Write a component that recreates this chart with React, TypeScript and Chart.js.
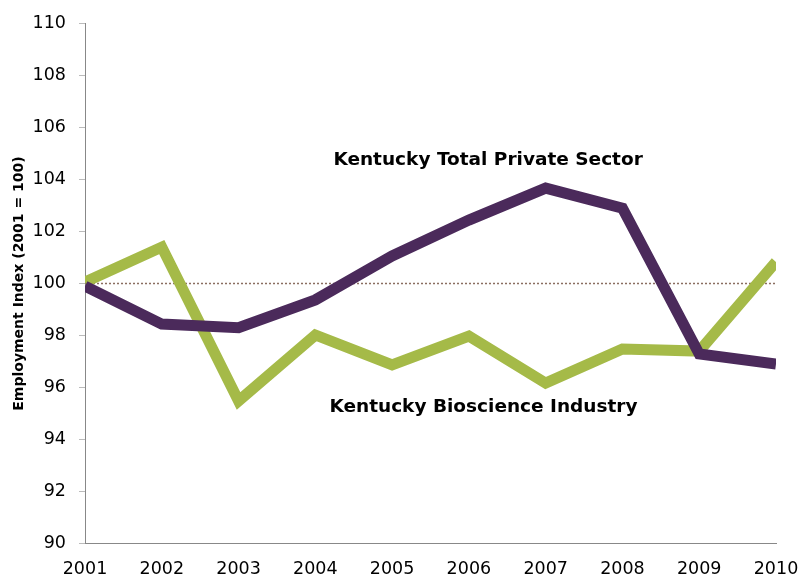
import React, { useEffect, useRef } from "react";
import { Chart, registerables } from "chart.js";

Chart.register(...registerables);

const years = ["2001", "2002", "2003", "2004", "2005", "2006", "2007", "2008", "2009", "2010"];
const totalPrivate = [99.9, 98.44, 98.3, 99.37, 101.06, 102.44, 103.67, 102.9, 97.29, 96.9];
const bioscience = [100.06, 101.4, 95.48, 98.02, 96.87, 97.98, 96.17, 97.48, 97.4, 100.83];
const baseline = [100, 100, 100, 100, 100, 100, 100, 100, 100, 100];
const seriesNames = ["Kentucky Total Private Sector", "Kentucky Bioscience Industry"];
const yTitle = "Employment Index (2001 = 100)";

const FONT = "'DejaVu Sans', Verdana, sans-serif";

const labelPlugin = {
  id: "seriesLabels",
  afterDatasetsDraw(chart: any) {
    const { ctx, scales } = chart;
    const xs = scales.x;
    const ys = scales.y;
    const items = [
      { text: seriesNames[0], xv: 5.25, yv: 104.75 },
      { text: seriesNames[1], xv: 5.19, yv: 95.25 },
    ];
    ctx.save();
    ctx.font = `bold 18.5px ${FONT}`;
    ctx.fillStyle = "#000";
    ctx.textAlign = "center";
    ctx.textBaseline = "middle";
    for (const it of items) {
      ctx.fillText(it.text, xs.getPixelForValue(it.xv), ys.getPixelForValue(it.yv));
    }
    ctx.restore();
  },
};

export default function App() {
  const ref = useRef<HTMLCanvasElement | null>(null);
  useEffect(() => {
    document.body.style.margin = "0";
    const chart = new Chart(ref.current!, {
      type: "line",
      data: {
        labels: years,
        datasets: [
          {
            label: seriesNames[0],
            data: totalPrivate,
            borderColor: "#4B2A5B",
            borderWidth: 11,
            pointRadius: 0,
            tension: 0,
            clip: 0,
            order: 1,
          },
          {
            label: seriesNames[1],
            data: bioscience,
            borderColor: "#A5BA48",
            borderWidth: 11,
            pointRadius: 0,
            tension: 0,
            clip: 0,
            order: 2,
          },
          {
            label: "baseline",
            data: baseline,
            borderColor: "#8A6E60",
            borderWidth: 1.5,
            borderDash: [2, 2],
            pointRadius: 0,
            clip: 0,
            order: 3,
          },
        ],
      },
      options: {
        responsive: false,
        animation: false,
        layout: { padding: { top: 23.5, right: 26, left: 0, bottom: 0 } },
        plugins: { legend: { display: false }, tooltip: { enabled: false } },
        scales: {
          x: {
            type: "category",
            offset: false,
            grid: { display: false, drawTicks: false },
            border: { display: true, color: "#888" },
            ticks: { color: "#000", font: { family: FONT, size: 17.5 }, padding: 15, maxRotation: 0 },
            afterFit: (s: any) => { s.height = 34.5; s.paddingLeft = 0; s.paddingRight = 0; },
          },
          y: {
            min: 90,
            max: 110,
            grid: { drawOnChartArea: false, drawTicks: true, tickLength: 6, color: "#bbb" },
            border: { display: true, color: "#888" },
            ticks: { stepSize: 2, color: "#000", font: { family: FONT, size: 17.5 }, padding: 13 },
            title: { display: true, text: yTitle, color: "#000", font: { family: FONT, size: 14, weight: "bold" }, padding: { top: 11, bottom: 0 } },
            afterFit: (s: any) => { s.width = 85; },
          },
        },
      },
      plugins: [labelPlugin],
    });
    return () => chart.destroy();
  }, []);
  return (
    <div style={{ width: 802, height: 578 }}>
      <canvas ref={ref} width={802} height={578} />
    </div>
  );
}
